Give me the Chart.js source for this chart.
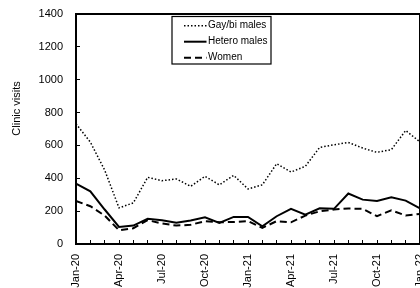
<!DOCTYPE html>
<html>
<head>
<meta charset="utf-8">
<script src="https://cdn.jsdelivr.net/npm/chart.js@4"></script>
<style>
html, body { margin: 0; padding: 0; background: #fff; overflow: hidden; }
</style>
</head>
<body>
<canvas id="visitsChart" width="420" height="288"></canvas>
<script>
const monthLabels = ['Jan-20', 'Feb-20', 'Mar-20', 'Apr-20', 'May-20', 'Jun-20', 'Jul-20', 'Aug-20', 'Sep-20',
  'Oct-20', 'Nov-20', 'Dec-20', 'Jan-21', 'Feb-21', 'Mar-21', 'Apr-21', 'May-21', 'Jun-21', 'Jul-21',
  'Aug-21', 'Sep-21', 'Oct-21', 'Nov-21', 'Dec-21', 'Jan-22'];
const gayBiVisits = [732, 620, 450, 220, 250, 406, 385, 396, 351, 412, 360, 418, 335, 360, 489, 438, 473, 588, 604, 618, 584, 558, 574, 691, 621];
const heteroVisits = [367, 321, 210, 104, 112, 153, 145, 129, 143, 163, 129, 165, 165, 108, 169, 214, 179, 217, 214, 307, 270, 262, 284, 264, 217];
const womenVisits = [262, 230, 173, 84, 96, 145, 125, 112, 117, 139, 132, 134, 139, 98, 139, 132, 173, 199, 210, 216, 214, 169, 205, 173, 183];
const yTicks = [0, 200, 400, 600, 800, 1000, 1200, 1400];

const fontFamily = "'Liberation Sans', Arial, sans-serif";
const ink = '#000';

// frame top edge, boxed legend and y title
const extrasPlugin = {
  id: 'extras',
  afterDraw(chart) {
    const ctx = chart.ctx;
    const area = chart.chartArea;
    ctx.save();
    ctx.strokeStyle = ink;
    ctx.lineWidth = 2;
    ctx.beginPath();
    ctx.moveTo(area.left, area.top);
    ctx.lineTo(area.right, area.top);
    ctx.lineTo(area.right, area.bottom);
    ctx.stroke();

    // legend
    ctx.lineWidth = 1.2;
    ctx.strokeRect(172, 16.5, 99, 47.5);
    ctx.font = '10px ' + fontFamily;
    ctx.fillStyle = ink;
    ctx.textBaseline = 'middle';
    chart.data.datasets.forEach((ds, i) => {
      const y = 25.7 + i * 16;
      ctx.lineWidth = ds.borderWidth;
      ctx.setLineDash(ds.borderDash || []);
      ctx.beginPath();
      ctx.moveTo(184, y);
      ctx.lineTo(206.5, y);
      ctx.stroke();
      ctx.setLineDash([]);
      ctx.fillText(ds.label, 208, y);
    });

    // y axis title
    ctx.font = '11px ' + fontFamily;
    ctx.textAlign = 'center';
    ctx.translate(17, 108.5);
    ctx.rotate(-Math.PI / 2);
    ctx.fillText('Clinic visits', 0, 0);
    ctx.restore();
  }
};

new Chart(document.getElementById('visitsChart'), {
  type: 'line',
  data: {
    labels: monthLabels,
    datasets: [
      { label: 'Gay/bi males', data: gayBiVisits, borderColor: ink, borderWidth: 1.5, borderDash: [1.5, 2] },
      { label: 'Hetero males', data: heteroVisits, borderColor: ink, borderWidth: 2 },
      { label: 'Women', data: womenVisits, borderColor: ink, borderWidth: 2, borderDash: [7, 4] }
    ]
  },
  options: {
    responsive: false,
    animation: false,
    elements: { point: { radius: 0 }, line: { tension: 0 } },
    layout: { padding: { top: 14, left: 0, right: 0, bottom: 0 } },
    plugins: { legend: { display: false }, tooltip: { enabled: false } },
    scales: {
      x: {
        grid: { drawOnChartArea: false, drawTicks: true, tickLength: -4, color: ink },
        border: { color: ink, width: 2 },
        ticks: {
          autoSkip: false,
          maxRotation: 90,
          minRotation: 90,
          padding: 14,
          color: ink,
          font: { family: fontFamily, size: 11 },
          callback: (v, i) => (i % 3 === 0 ? monthLabels[i] : '')
        },
        afterFit(s) { s.height = 44; s.paddingLeft = 0; s.paddingRight = 0; }
      },
      y: {
        min: 0,
        max: 1400,
        afterBuildTicks(s) { s.ticks = yTicks.map(v => ({ value: v })); },
        grid: { drawOnChartArea: false, drawTicks: true, tickLength: -4, color: ink },
        border: { color: ink, width: 2 },
        ticks: { padding: 17, color: ink, font: { family: fontFamily, size: 11 }, callback: v => String(v) },
        afterFit(s) { s.width = 76; s.paddingTop = 0; s.paddingBottom = 0; }
      }
    }
  },
  plugins: [extrasPlugin]
});
</script>
</body>
</html>
